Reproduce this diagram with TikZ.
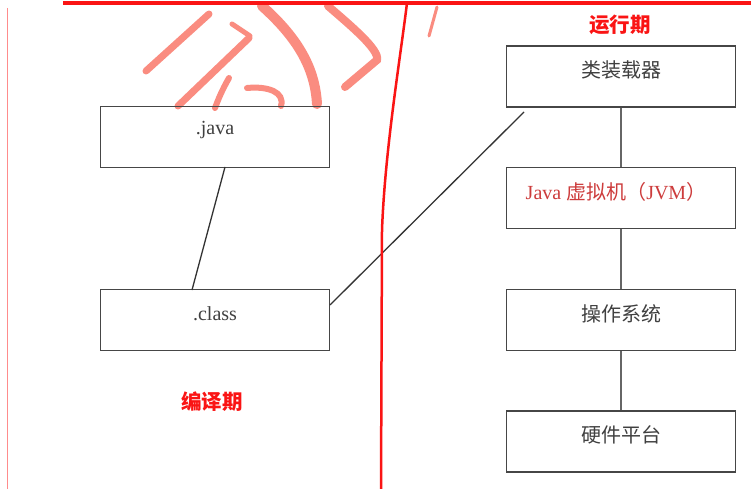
\documentclass[tikz,border=0pt]{standalone}
\usepackage{fontspec}
\setmainfont{Liberation Serif}
\newfontfamily\cjk{Noto Sans CJK SC}
\definecolor{boxline}{RGB}{70,70,70}
\definecolor{penred}{RGB}{250,20,20}
\definecolor{scrib}{RGB}{250,140,128}
\definecolor{jvmred}{RGB}{205,60,60}
\begin{document}
\begin{tikzpicture}[x=1pt,y=-1pt,
  box/.style={draw=boxline,line width=1.3pt,minimum width=229pt,minimum height=61pt,inner sep=0pt},
  lbl/.style={font=\fontsize{20}{22}\selectfont,text=black!75,inner sep=0pt},
  cjklbl/.style={lbl,font=\cjk\fontsize{20}{22}\selectfont},
  conn/.style={draw=black!80,line width=1.3pt},
  vconn/.style={draw=black!60,line width=1.4pt},
  tag/.style={font=\cjk\bfseries\fontsize{20.5}{22}\selectfont,text=penred,inner sep=0pt},
  stroke/.style={draw=scrib,line width=7pt,line cap=round}]
\useasboundingbox (0,0) rectangle (751,489);
\fill[white] (0,0) rectangle (751,489);
% scribbles
\draw[stroke] (146,71) -- (209,14);
\draw[stroke] (178,106) -- (249,38);
\draw[stroke,line width=5pt] (232,24) -- (250,36);
\draw[stroke,line width=6pt] (229,78) .. controls (222,90) and (218,100) .. (215,108);
\draw[stroke,line width=10pt] (262,6) .. controls (300,40) and (315,70) .. (317,104);
\draw[stroke,line width=6pt] (247,88) .. controls (268,86) and (285,92) .. (281,106);
\draw[stroke,line width=8pt] (328,6) .. controls (350,25) and (380,50) .. (377,60) -- (345,87);
\draw[stroke,line width=3pt] (437,7) -- (429,36);
\draw[draw=red!45,line width=1pt] (7,8) -- (7,489);
% boxes
\node[box] (java) at (215,137) {};
\node[box] (class) at (215,320) {};
\node[box] (loader) at (621,76.5) {};
\node[box] (jvm) at (621,198) {};
\node[box] (os) at (621,320) {};
\node[box] (hw) at (621,441.5) {};
\node[lbl] (tjava) at (215,130) {.java};
\node[lbl] (tclass) at (215,314) {.class};
\node[cjklbl] (tloader) at (621,70) {类装载器};
\node[lbl,text=jvmred] (tjvm) at (616,192) {Java {\cjk 虚拟机（}JVM{\cjk ）}};
\node[cjklbl] (tos) at (621,314) {操作系统};
\node[cjklbl] (thw) at (621,435) {硬件平台};
% connectors
\coordinate (c1) at (225,167);
\coordinate (c2) at (192,290);
\draw[conn] (c1) -- (c2);
\coordinate (c3) at (330,305);
\coordinate (c4) at (524,112);
\draw[conn] (c3) -- (c4);
\draw[vconn] (loader.south) -- (jvm.north);
\draw[vconn] (jvm.south) -- (os.north);
\draw[vconn] (os.south) -- (hw.north);
% red pen lines
\draw[penred,line width=3.5pt] (63,3) -- (751,3);
\draw[penred,line width=2.5pt] (407,3) .. controls (400,60) and (385,150) .. (382,230) -- (381,489);
\node[tag] (run) at (620,25) {运行期};
\node[tag] (compile) at (212,402) {编译期};
\end{tikzpicture}
\end{document}
